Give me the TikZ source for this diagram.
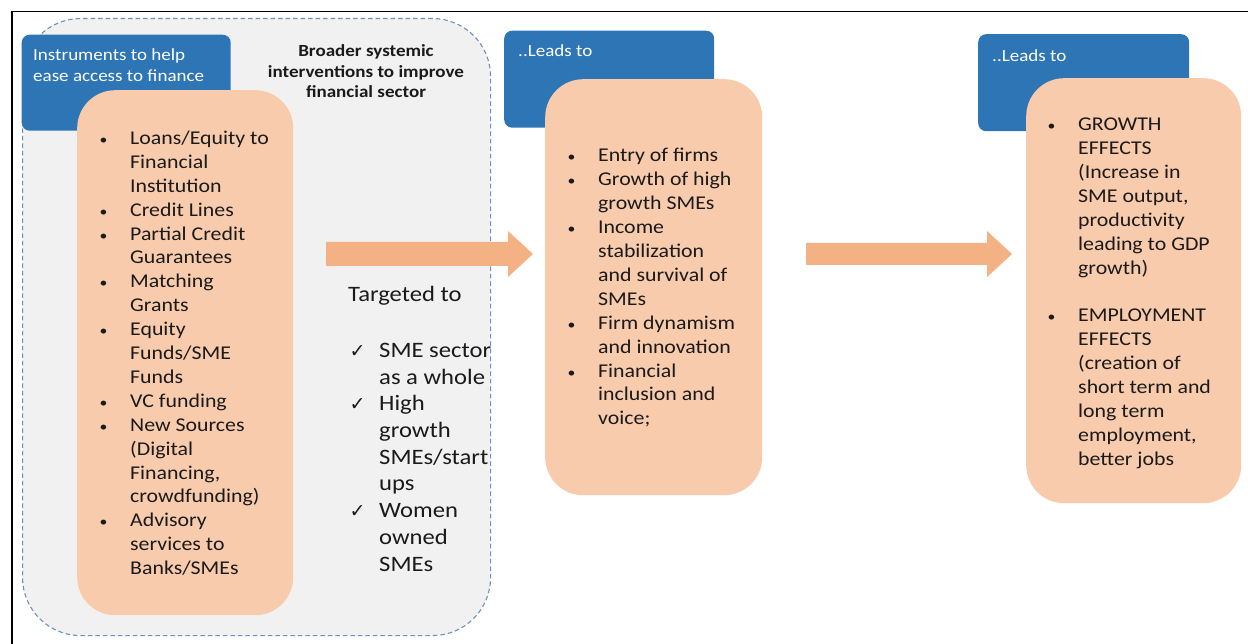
\documentclass[tikz,border=0pt]{standalone}
\usepackage{fontspec}
\setmainfont{Carlito}[FakeStretch=1.12]
\newfontfamily\djv{DejaVu Sans}
\definecolor{bluebx}{HTML}{2E75B6}
\definecolor{orangebx}{HTML}{F8CBAD}
\definecolor{arrowc}{HTML}{F4B183}
\definecolor{grayfill}{HTML}{F1F1F1}
\definecolor{dashc}{HTML}{6F90B8}
\definecolor{txt}{HTML}{1A1A1A}
\newcommand\bl{\leavevmode\llap{\makebox[30.5pt][l]{\fontsize{14}{14}\selectfont •}}}
\newcommand\ck{\leavevmode\llap{\makebox[29.5pt][l]{\djv\fontsize{19}{19}\selectfont ✓}}}
\begin{document}
\begin{tikzpicture}[x=1pt,y=-1pt,
  bluebox/.style={draw=none,fill=bluebx,rounded corners=8pt,anchor=north west,inner sep=0pt},
  orbox/.style={draw=none,fill=orangebx,rounded corners=38pt,anchor=north west,inner sep=0pt},
  regionbox/.style={draw=dashc,fill=grayfill,dash pattern=on 4.5pt off 3pt,line width=1.1pt,rounded corners=58pt,anchor=north west,inner sep=0pt},
  listtxt/.style={anchor=base west,inner sep=0pt,text=txt},
  bluetxt/.style={anchor=base west,inner sep=0pt,text=white},
  blockarrow/.style={fill=arrowc,draw=none}
]
\useasboundingbox (0,0) rectangle (1248,644);
\fill[white] (0,0) rectangle (1248,644);
% frame lines
\draw[line width=1.4pt,black] (12,644) -- (12,11.5) -- (1248,11.5);

% region
\node[regionbox,minimum width=468pt,minimum height=617pt] (region) at (22,18) {};

% blue header boxes
\node[bluebox,minimum width=209pt,minimum height=96pt] (b1) at (21.5,34.5) {};
\node[bluebox,minimum width=210pt,minimum height=97pt] (b2) at (504,30.5) {};
\node[bluebox,minimum width=211pt,minimum height=97pt] (b3) at (978,34) {};

\node[bluetxt,font=\fontsize{17}{20.2}\selectfont] (b1t) at (33,61) {\parbox[t]{200pt}{Instruments to help\\ease access to finance}};
\node[bluetxt,font=\fontsize{17}{20}\selectfont] (b2t) at (518,57) {..Leads to};
\node[bluetxt,font=\fontsize{17}{20}\selectfont] (b3t) at (992,62) {..Leads to};

% orange boxes
\node[orbox,minimum width=216pt,minimum height=525pt] (o1) at (77,90) {};
\node[orbox,minimum width=217pt,minimum height=416pt] (o2) at (545,79) {};
\node[orbox,minimum width=215pt,minimum height=425pt] (o3) at (1026,78) {};

% header text of region
\node[anchor=base,inner sep=0pt,text=txt,font=\bfseries\fontsize{17}{20.7}\selectfont] (hdr) at (366,56.5)
 {\parbox[t]{220pt}{\centering Broader systemic\\interventions to improve\\financial sector}};

% list 1
\node[listtxt] (l1) at (130,144.5) {\parbox[t]{170pt}{\raggedright\fontsize{19.5}{23.9}\selectfont
\bl Loans/Equity to\\Financial\\Institution\\
\bl Credit Lines\\
\bl Partial Credit\\Guarantees\\
\bl Matching\\Grants\\
\bl Equity\\Funds/SME\\Funds\\
\bl VC funding\\
\bl New Sources\\(Digital\\Financing,\\crowdfunding)\\
\bl Advisory\\services to\\Banks/SMEs}};

% targeted
\node[listtxt,font=\fontsize{22}{26.7}\selectfont] (tg) at (348,302) {Targeted to};
\node[listtxt] (tl) at (379,357.5) {\parbox[t]{130pt}{\raggedright\fontsize{22}{26.7}\selectfont
\ck SME sector\\as a whole\\
\ck High\\growth\\SMEs/start\\ups\\
\ck Women\\owned\\SMEs}};

% list 2
\node[listtxt] (l2) at (598,162) {\parbox[t]{160pt}{\raggedright\fontsize{19.5}{23.9}\selectfont
\bl Entry of firms\\
\bl Growth of high\\growth SMEs\\
\bl Income\\stabilization\\and survival of\\SMEs\\
\bl Firm dynamism\\and innovation\\
\bl Financial\\inclusion and\\voice;}};

% list 3
\node[listtxt] (l3) at (1078,131) {\parbox[t]{160pt}{\raggedright\fontsize{19.5}{23.9}\selectfont
\bl GROWTH\\EFFECTS\\(Increase in\\SME output,\\productivity\\leading to GDP\\growth)\\[23.5pt]
\bl EMPLOYMENT\\EFFECTS\\(creation of\\short term and\\long term\\employment,\\better jobs}};

% block arrows
\coordinate (a1s) at (326,254);
\coordinate (a1e) at (533,254);
\coordinate (a2s) at (806,254);
\coordinate (a2e) at (1012,254);
\fill[blockarrow] ([yshift=12pt]a1s) -- (508,242) -- (508,231) -- (a1e) -- (508,277) -- (508,266) -- ([yshift=-12pt]a1s) -- cycle;
\fill[blockarrow] ([yshift=11pt]a2s) -- (987,243) -- (987,231) -- (a2e) -- (987,277) -- (987,265) -- ([yshift=-11pt]a2s) -- cycle;
\end{tikzpicture}
\end{document}
